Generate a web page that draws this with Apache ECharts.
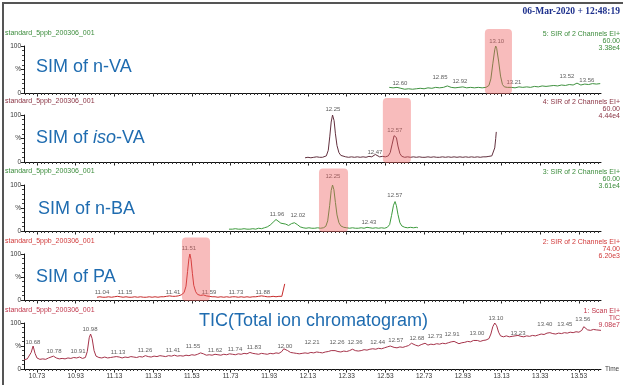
<!DOCTYPE html>
<html><head><meta charset="utf-8">
<script src="https://cdn.jsdelivr.net/npm/echarts@6/dist/echarts.min.js"></script>
<style>html,body{margin:0;padding:0;background:#fff}#c{width:623px;height:385px}</style>
</head><body><div id="c"></div>
<script>
// ---------- data ----------
const xMin = 10.663, xMax = 13.644;
const xTickLabels = [10.73,10.93,11.13,11.33,11.53,11.73,11.93,12.13,12.33,12.53,12.73,12.93,13.13,13.33,13.53];

const nVA = [[12.55,12],[12.57,11],[12.59,12],[12.61,10],[12.63,8],[12.65,9],[12.67,8],[12.69,9],[12.71,10],[12.73,9],[12.75,11],[12.77,10],[12.79,12],[12.81,11],[12.83,12],[12.85,15],[12.87,12],[12.89,11],[12.91,12],[12.93,13],[12.95,11],[12.97,12],[12.99,11],[13.01,12],[13.03,11],[13.05,12],[13.065,16],[13.075,30],[13.085,62],[13.095,92],[13.10,100],[13.105,95],[13.115,68],[13.125,36],[13.135,18],[13.145,13],[13.16,12],[13.18,12],[13.20,11],[13.22,13],[13.24,12],[13.26,13],[13.28,12],[13.30,14],[13.32,13],[13.34,15],[13.36,14],[13.38,15],[13.40,16],[13.42,15],[13.44,17],[13.46,16],[13.48,18],[13.50,17],[13.52,21],[13.54,17],[13.56,19],[13.58,18],[13.60,20],[13.62,19],[13.64,20]];
const isoVA = [[12.115,9],[12.13,10],[12.145,9],[12.16,10],[12.175,11],[12.19,10],[12.205,10],[12.215,11],[12.225,13],[12.235,25],[12.243,55],[12.25,85],[12.257,100],[12.265,88],[12.272,60],[12.28,35],[12.29,20],[12.30,14],[12.31,12],[12.325,11],[12.34,10],[12.355,11],[12.37,10],[12.385,11],[12.40,10],[12.415,11],[12.43,10],[12.445,12],[12.46,11],[12.47,13],[12.478,16],[12.485,12],[12.50,11],[12.515,12],[12.53,11],[12.545,13],[12.555,20],[12.565,38],[12.575,56],[12.58,59],[12.587,52],[12.595,34],[12.605,18],[12.615,12],[12.63,10],[12.645,11],[12.66,10],[12.675,11],[12.69,10],[12.705,11],[12.72,10],[12.735,10],[12.75,11],[12.765,10],[12.78,11],[12.795,10],[12.81,10],[12.825,11],[12.84,10],[12.855,11],[12.87,10],[12.885,11],[12.90,10],[12.915,11],[12.93,10],[12.945,11],[12.96,10],[12.975,11],[12.99,10],[13.005,11],[13.02,10],[13.035,11],[13.05,11],[13.065,12],[13.08,13],[13.09,16],[13.095,30],[13.10,50],[13.103,64]];
const nBA = [[11.722,4],[11.74,4],[11.755,5],[11.77,4],[11.785,4],[11.80,5],[11.815,4],[11.83,4],[11.845,5],[11.86,4],[11.875,6],[11.89,5],[11.905,7],[11.92,9],[11.935,13],[11.95,19],[11.965,25],[11.975,22],[11.99,17],[12.00,18],[12.015,15],[12.03,12],[12.045,16],[12.06,18],[12.075,14],[12.09,9],[12.105,7],[12.12,6],[12.135,7],[12.15,6],[12.165,6],[12.18,7],[12.195,6],[12.21,7],[12.222,10],[12.232,22],[12.242,55],[12.25,88],[12.257,100],[12.264,90],[12.272,62],[12.28,35],[12.29,18],[12.30,11],[12.315,8],[12.33,7],[12.345,6],[12.36,7],[12.375,6],[12.39,6],[12.405,7],[12.42,6],[12.435,8],[12.45,7],[12.465,6],[12.48,7],[12.495,6],[12.51,7],[12.525,6],[12.54,8],[12.552,14],[12.562,34],[12.572,56],[12.58,64],[12.587,55],[12.595,36],[12.605,18],[12.615,11],[12.63,8],[12.645,7],[12.66,8],[12.675,7],[12.69,8],[12.698,7]];
const PA = [[11.04,6],[11.055,7],[11.07,6],[11.085,6],[11.10,7],[11.115,6],[11.13,7],[11.145,8],[11.16,7],[11.175,6],[11.19,7],[11.205,6],[11.22,6],[11.235,7],[11.25,6],[11.265,7],[11.28,6],[11.295,6],[11.31,7],[11.325,6],[11.34,7],[11.355,6],[11.37,7],[11.385,7],[11.40,8],[11.415,9],[11.43,8],[11.445,8],[11.46,9],[11.475,11],[11.49,16],[11.50,30],[11.508,62],[11.515,90],[11.52,100],[11.526,88],[11.533,58],[11.54,32],[11.55,18],[11.56,12],[11.575,10],[11.59,11],[11.605,9],[11.62,8],[11.635,7],[11.65,7],[11.665,6],[11.68,7],[11.695,6],[11.71,7],[11.725,6],[11.74,7],[11.755,7],[11.77,6],[11.785,7],[11.80,6],[11.815,7],[11.83,6],[11.845,7],[11.86,7],[11.875,8],[11.89,9],[11.905,8],[11.92,7],[11.935,7],[11.95,8],[11.965,7],[11.98,8],[11.995,8],[12.005,12],[12.01,35]];
const TIC = [[10.663,20],[10.68,22],[10.69,24],[10.70,36],[10.71,50],[10.72,34],[10.73,24],[10.745,21],[10.76,22],[10.775,21],[10.79,24],[10.80,27],[10.815,28],[10.83,24],[10.845,22],[10.86,23],[10.875,22],[10.89,24],[10.905,23],[10.92,25],[10.935,24],[10.95,26],[10.965,23],[10.98,25],[10.99,38],[11.00,68],[11.007,76],[11.015,66],[11.025,40],[11.035,28],[11.05,25],[11.065,24],[11.08,26],[11.095,24],[11.11,25],[11.125,26],[11.14,27],[11.155,26],[11.17,24],[11.185,26],[11.20,25],[11.215,27],[11.23,26],[11.245,25],[11.26,27],[11.275,26],[11.29,29],[11.305,27],[11.32,26],[11.335,28],[11.35,27],[11.365,29],[11.38,28],[11.395,27],[11.41,29],[11.425,28],[11.44,30],[11.455,28],[11.47,29],[11.485,28],[11.50,30],[11.515,29],[11.53,31],[11.545,30],[11.56,32],[11.575,35],[11.59,33],[11.605,30],[11.62,31],[11.635,30],[11.65,32],[11.665,31],[11.68,30],[11.695,32],[11.71,31],[11.725,33],[11.74,32],[11.755,31],[11.77,33],[11.785,32],[11.80,34],[11.815,33],[11.83,36],[11.845,34],[11.86,33],[11.875,32],[11.89,34],[11.905,33],[11.92,32],[11.935,34],[11.95,33],[11.965,35],[11.98,34],[11.995,38],[12.005,44],[12.015,46],[12.025,40],[12.04,36],[12.055,35],[12.07,34],[12.085,33],[12.10,34],[12.115,35],[12.13,34],[12.145,36],[12.16,35],[12.175,37],[12.19,36],[12.205,35],[12.22,37],[12.235,38],[12.25,40],[12.26,43],[12.27,40],[12.285,38],[12.30,37],[12.315,39],[12.33,38],[12.345,40],[12.36,43],[12.375,40],[12.39,39],[12.405,40],[12.42,42],[12.435,41],[12.45,43],[12.465,44],[12.48,43],[12.495,45],[12.51,44],[12.525,46],[12.54,48],[12.555,50],[12.565,51],[12.575,47],[12.59,46],[12.605,48],[12.62,47],[12.635,49],[12.65,51],[12.665,56],[12.675,57],[12.685,52],[12.70,50],[12.715,53],[12.725,57],[12.735,56],[12.75,52],[12.765,54],[12.78,53],[12.795,55],[12.81,54],[12.825,56],[12.84,55],[12.855,57],[12.87,59],[12.885,60],[12.895,56],[12.91,55],[12.925,57],[12.94,58],[12.955,60],[12.97,59],[12.985,62],[12.995,64],[13.005,62],[13.02,60],[13.035,62],[13.05,63],[13.065,66],[13.075,76],[13.085,92],[13.095,100],[13.105,94],[13.115,80],[13.125,72],[13.14,70],[13.155,72],[13.17,70],[13.185,71],[13.20,72],[13.215,73],[13.23,71],[13.245,70],[13.26,72],[13.275,71],[13.29,73],[13.305,72],[13.32,74],[13.335,76],[13.35,75],[13.365,78],[13.38,79],[13.395,77],[13.41,76],[13.425,78],[13.44,77],[13.455,79],[13.47,78],[13.485,80],[13.50,79],[13.515,81],[13.53,80],[13.545,84],[13.555,92],[13.565,88],[13.575,85],[13.59,84],[13.605,86],[13.62,85],[13.644,84]];

// peak labels: [text, time position, height %]
const nVALabels = [['12.60',12.605,21],['12.85',12.812,33],['12.92',12.915,24],['13.10',13.105,109],['13.21',13.194,23],['13.52',13.468,36],['13.56',13.571,26]];
const isoVALabels = [['12.25',12.259,113],['12.47',12.476,21],['12.57',12.579,68]];
const nBALabels = [['11.96',11.97,37],['12.02',12.078,35],['12.25',12.259,118],['12.43',12.445,18],['12.57',12.579,78]];
const PALabels = [['11.04',11.066,17],['11.15',11.185,17],['11.41',11.433,17],['11.51',11.515,112],['11.59',11.619,17],['11.73',11.758,17],['11.88',11.897,17]];
const TICLabels = [['10.68',10.709,59],['10.78',10.818,39],['10.91',10.942,39],['10.98',11.004,87],['11.13',11.149,37],['11.26',11.288,41],['11.41',11.433,41],['11.55',11.536,50],['11.62',11.65,41],['11.74',11.753,43],['11.83',11.851,46],['12.00',12.011,50],['12.21',12.151,59],['12.26',12.28,57],['12.36',12.373,57],['12.44',12.49,59],['12.57',12.584,63],['12.68',12.693,67],['12.73',12.786,70],['12.91',12.874,76],['13.00',13.003,78],['13.10',13.101,111],['13.23',13.215,78],['13.40',13.354,98],['13.45',13.457,96],['13.56',13.55,109]];

// highlighted peaks: [panel, t start, t end]
const highlights = [[0,13.044,13.184],[1,12.517,12.662],[2,12.187,12.337],[3,11.479,11.624]];

const sampleName = 'standard_5ppb_200306_001';
const channelInfo = [
  ['5: SIR of 2 Channels EI+','60.00','3.38e4'],
  ['4: SIR of 2 Channels EI+','60.00','4.44e4'],
  ['3: SIR of 2 Channels EI+','60.00','3.61e4'],
  ['2: SIR of 2 Channels EI+','74.00','6.20e3'],
  ['1: Scan EI+','TIC','9.08e7']
];
const dateText = '06-Mar-2020 + 12:48:19';

// ---------- layout / style ----------
const panels = [
  {data:nVA, labels:nVALabels, line:'#3f913f', text:'#3c8c3c', top:46, h:47, nameY:33, title:'SIM of n-VA', tx:36, ty:67},
  {data:isoVA, labels:isoVALabels, line:'#62303e', text:'#8a3444', top:115, h:47, nameY:101, title:'{a|SIM of }{i|iso}{a|-VA}', tx:36, ty:138},
  {data:nBA, labels:nBALabels, line:'#3d9a3d', text:'#3c8c3c', top:185, h:46, nameY:171, title:'SIM of n-BA', tx:38, ty:209},
  {data:PA, labels:PALabels, line:'#c62a2a', text:'#d03a3a', top:254, h:46, nameY:241, title:'SIM of PA', tx:36, ty:277},
  {data:TIC, labels:TICLabels, line:'#a5334a', text:'#c0384c', top:323, h:46, nameY:310, title:'TIC(Total ion chromatogram)', tx:199, ty:321}
];
const FONT = 'Liberation Sans, Arial, sans-serif';
const minorTicks = [];
for (let k = 0; ; k++) { const v = +(10.67 + k*0.02).toFixed(2); if (v > xMax) break; minorTicks.push(v); }

const grids = [], xAxes = [], xAxesMinor = [], yAxes = [], series = [];
panels.forEach((p, i) => {
  grids.push({left:24, right:22, top:p.top, height:p.h});
  const last = i === panels.length - 1;
  xAxes.push({
    type:'value', gridIndex:i, min:xMin, max:xMax, position:'bottom', offset:0,
    axisLine:{show:true, onZero:false, lineStyle:{color:'#111', width:1}},
    axisTick:{show:true, customValues:xTickLabels, length:3.5, lineStyle:{color:'#222'}},
    axisLabel:{show:last, customValues:xTickLabels, formatter:v=>v.toFixed(2), fontSize:6.5, color:'#333', margin:4, fontFamily:FONT},
    splitLine:{show:false},
    name: last ? 'Time' : '', nameLocation:'end', nameGap:4,
    nameTextStyle:{fontSize:6.5, color:'#444', fontFamily:FONT, verticalAlign:'middle'}
  });
  xAxesMinor.push({
    type:'value', gridIndex:i, min:xMin, max:xMax, position:'bottom', offset:0,
    axisLine:{show:false}, axisLabel:{show:false}, splitLine:{show:false},
    axisTick:{show:true, customValues:minorTicks, length:2, lineStyle:{color:'#333'}}
  });
  yAxes.push({
    type:'value', gridIndex:i, min:0, max:100, interval:50,
    axisLine:{show:true, lineStyle:{color:'#111', width:1}},
    axisTick:{show:true, length:3, lineStyle:{color:'#222'}},
    minorTick:{show:true, splitNumber:5, length:2, lineStyle:{color:'#444'}},
    axisLabel:{formatter:v=>v===50?'%':String(v), fontSize:6.5, color:'#333', margin:3, fontFamily:FONT},
    splitLine:{show:false}
  });
  series.push({
    type:'line', xAxisIndex:i, yAxisIndex:i, data:p.data, symbol:'none', smooth:false,
    lineStyle:{color:p.line, width:1}, silent:true, z:3
  });
  series.push({
    type:'scatter', xAxisIndex:i, yAxisIndex:i, clip:false, symbolSize:1,
    itemStyle:{color:'rgba(0,0,0,0)'}, silent:true, z:4,
    data:p.labels.map(l=>({name:l[0], value:[l[1], l[2]]})),
    label:{show:true, position:'inside', formatter:'{b}', fontSize:6, color:'#333', fontFamily:FONT}
  });
});

const chart = echarts.init(document.getElementById('c'), null, {renderer:'canvas'});
const allX = xAxes.concat(xAxesMinor);

function buildGraphics() {
  const g = [];
  // frame
  g.push({type:'line', shape:{x1:2, y1:3, x2:623, y2:3}, style:{stroke:'#555', lineWidth:2}, z:50});
  g.push({type:'line', shape:{x1:3, y1:2, x2:3, y2:385}, style:{stroke:'#555', lineWidth:2}, z:50});
  g.push({type:'text', right:3, top:7, style:{text:dateText, fill:'#1c2f8c', font:'bold 9.5px "Liberation Serif", "Times New Roman", serif'}, z:50});
  panels.forEach((p, i) => {
    g.push({type:'text', x:5, y:p.nameY, style:{text:sampleName, fill:p.text, fontSize:7, fontFamily:FONT, verticalAlign:'middle'}, z:50});
    channelInfo[i].forEach((t, k) => {
      g.push({type:'text', x:620, y:p.nameY + 1 + k*7, style:{text:t, fill:p.text, fontSize:7, fontFamily:FONT, align:'right', verticalAlign:'middle'}, z:50});
    });
    const titleStyle = {text:p.title, fill:'#1f6cb0', fontSize:18, fontFamily:FONT, verticalAlign:'middle'};
    if (i === 1) {
      titleStyle.rich = {a:{fontSize:18, fontFamily:FONT, fill:'#1f6cb0'}, i:{fontSize:18, fontFamily:FONT, fontStyle:'italic', fill:'#1f6cb0'}};
    }
    g.push({type:'text', x:p.tx, y:p.ty, style:titleStyle, z:50});
  });
  highlights.forEach(h => {
    const a = chart.convertToPixel({xAxisIndex:h[0], yAxisIndex:h[0]}, [h[1], 136]);
    const b = chart.convertToPixel({xAxisIndex:h[0], yAxisIndex:h[0]}, [h[2], -2]);
    if (!a || !b) return;
    g.push({type:'rect', shape:{x:a[0], y:a[1], width:b[0]-a[0], height:b[1]-a[1], r:4},
      style:{fill:'rgba(238,95,95,0.42)'}, z:40, silent:true});
  });
  return g;
}

chart.setOption({
  animation:false,
  backgroundColor:'#fff',
  grid:grids, xAxis:allX, yAxis:yAxes, series:series
});
chart.setOption({graphic:buildGraphics()});
</script>
</body></html>
